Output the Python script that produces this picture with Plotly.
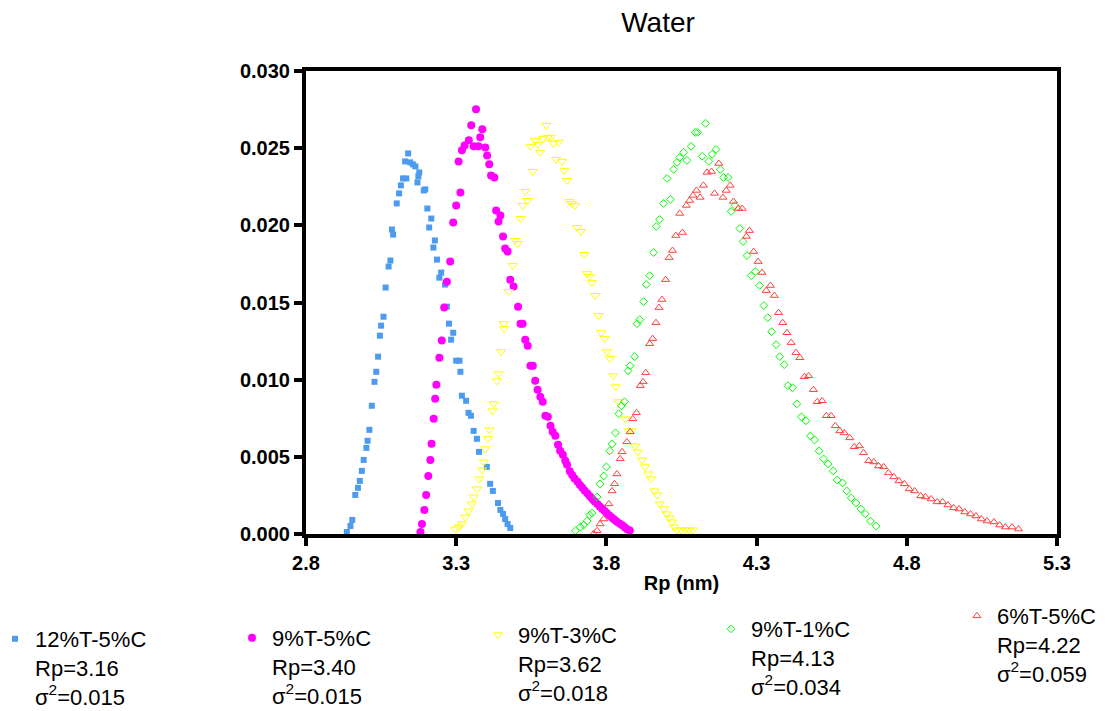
import plotly.graph_objects as go

# ---------------- data ----------------
blue_x = [2.936, 2.948, 2.954, 2.964, 2.973, 2.979, 2.986, 2.992, 3.001, 3.005, 3.011, 3.019, 3.028, 3.034,
          3.040, 3.046, 3.050, 3.058, 3.065, 3.075, 3.081, 3.086, 3.090, 3.102, 3.110, 3.116, 3.123, 3.130,
          3.134, 3.140, 3.147, 3.156, 3.164, 3.171, 3.174, 3.177, 3.192, 3.197, 3.204, 3.210, 3.217, 3.224,
          3.229, 3.236, 3.244, 3.250, 3.263, 3.269, 3.276, 3.283, 3.290, 3.300, 3.311, 3.314, 3.319, 3.333,
          3.341, 3.349, 3.358, 3.369, 3.376, 3.402, 3.413, 3.422, 3.439, 3.447, 3.456, 3.463, 3.471, 3.480]
blue_y = [0.00013, 0.00052, 0.00091, 0.00253, 0.00299, 0.00344, 0.00409, 0.00480, 0.00558, 0.00604, 0.00675,
          0.00831, 0.00986, 0.01051, 0.01149, 0.01285, 0.01350, 0.01408, 0.01597, 0.01733, 0.01772, 0.01973,
          0.01940, 0.02142, 0.02207, 0.02259, 0.02304, 0.02414, 0.02304, 0.02466, 0.02408, 0.02395, 0.02382,
          0.02278, 0.02317, 0.02343, 0.02226, 0.02233, 0.02109, 0.01986, 0.02044, 0.01856, 0.01902, 0.01778,
          0.01661, 0.01694, 0.01616, 0.01473, 0.01363, 0.01259, 0.01304, 0.01123, 0.01123, 0.01051, 0.00896,
          0.00863, 0.00785, 0.00766, 0.00668, 0.00617, 0.00532, 0.00435, 0.00325, 0.00279, 0.00201, 0.00156,
          0.00130, 0.00097, 0.00065, 0.00039]

magenta_x = [3.181, 3.186, 3.194, 3.200, 3.207, 3.214, 3.218, 3.225, 3.230, 3.234, 3.244, 3.252, 3.260, 3.269,
             3.280, 3.290, 3.300, 3.308, 3.314, 3.319, 3.328, 3.342, 3.350, 3.358, 3.366, 3.374, 3.380, 3.387,
             3.397, 3.403, 3.410, 3.416, 3.427, 3.433, 3.441, 3.447, 3.456, 3.463, 3.471, 3.480, 3.491, 3.506,
             3.514, 3.521, 3.530, 3.538, 3.547, 3.555, 3.563, 3.571, 3.580, 3.588, 3.597, 3.605, 3.614, 3.621,
             3.630, 3.639, 3.646, 3.655, 3.663, 3.669, 3.678, 3.686, 3.694, 3.704, 3.712, 3.720, 3.728, 3.737,
             3.745, 3.753, 3.761, 3.770, 3.778, 3.786, 3.794, 3.802, 3.811, 3.819, 3.827, 3.835, 3.845, 3.853,
             3.861, 3.869, 3.878]
magenta_y = [0.00013, 0.00065, 0.00156, 0.00253, 0.00376, 0.00480, 0.00584, 0.00746, 0.00876, 0.00967, 0.01142,
             0.01253, 0.01467, 0.01635, 0.01765, 0.02018, 0.02129, 0.02414, 0.02213, 0.02486, 0.02518, 0.02551,
             0.02648, 0.02512, 0.02752, 0.02512, 0.02570, 0.02622, 0.02505, 0.02453, 0.02395, 0.02323, 0.02310,
             0.02096, 0.02025, 0.02064, 0.01928, 0.01850, 0.01830, 0.01648, 0.01603, 0.01473, 0.01363, 0.01363,
             0.01259, 0.01220, 0.01090, 0.01090, 0.00993, 0.00935, 0.00889, 0.00857, 0.00766, 0.00759, 0.00701,
             0.00662, 0.00636, 0.00578, 0.00539, 0.00513, 0.00474, 0.00448, 0.00406, 0.00383, 0.00360, 0.00339,
             0.00318, 0.00299, 0.00280, 0.00262, 0.00244, 0.00227, 0.00211, 0.00195, 0.00178, 0.00164, 0.00149,
             0.00134, 0.00119, 0.00106, 0.00093, 0.00080, 0.00067, 0.00056, 0.00043, 0.00031, 0.00023]

yellow_x = [3.297, 3.308, 3.319, 3.330, 3.341, 3.352, 3.358, 3.369, 3.377, 3.386, 3.392, 3.397, 3.406, 3.411,
            3.421, 3.425, 3.436, 3.441, 3.450, 3.458, 3.460, 3.474, 3.488, 3.496, 3.505, 3.514, 3.521, 3.530,
            3.538, 3.547, 3.555, 3.563, 3.572, 3.580, 3.590, 3.600, 3.605, 3.614, 3.624, 3.633, 3.641, 3.652,
            3.660, 3.669, 3.677, 3.685, 3.696, 3.702, 3.715, 3.727, 3.736, 3.744, 3.752, 3.763, 3.774, 3.783,
            3.794, 3.802, 3.812, 3.823, 3.831, 3.840, 3.863, 3.874, 3.885, 3.896, 3.905, 3.918, 3.929, 3.940,
            3.949, 3.960, 3.969, 3.978, 3.992, 4.001, 4.010, 4.018, 4.025, 4.035, 4.048, 4.062, 4.075, 4.088]
yellow_y = [0.00032, 0.00045, 0.00065, 0.00110, 0.00149, 0.00195, 0.00240, 0.00292, 0.00357, 0.00415, 0.00467,
            0.00552, 0.00617, 0.00675, 0.00798, 0.00844, 0.00993, 0.01038, 0.01181, 0.01363, 0.01330, 0.01571,
            0.01739, 0.01902, 0.01882, 0.02044, 0.02129, 0.02220, 0.02161, 0.02512, 0.02349, 0.02551, 0.02525,
            0.02473, 0.02564, 0.02648, 0.02570, 0.02570, 0.02531, 0.02427, 0.02538, 0.02414, 0.02356, 0.02291,
            0.02155, 0.02142, 0.02129, 0.01986, 0.01960, 0.01811, 0.01687, 0.01668, 0.01629, 0.01545, 0.01415,
            0.01304, 0.01266, 0.01181, 0.01136, 0.01025, 0.00954, 0.00857, 0.00746, 0.00668, 0.00668, 0.00571,
            0.00532, 0.00480, 0.00435, 0.00389, 0.00357, 0.00279, 0.00253, 0.00195, 0.00162, 0.00130, 0.00104,
            0.00078, 0.00045, 0.00026, 0.00026, 0.00026, 0.00026, 0.00026]

green_x = [3.697, 3.713, 3.724, 3.736, 3.744, 3.752, 3.769, 3.779, 3.791, 3.800, 3.811, 3.819, 3.830, 3.841,
           3.850, 3.860, 3.872, 3.879, 3.894, 3.902, 3.911, 3.924, 3.933, 3.944, 3.957, 3.966, 3.977, 3.990,
           4.002, 4.013, 4.024, 4.035, 4.044, 4.057, 4.068, 4.082, 4.096, 4.104, 4.119, 4.130, 4.141, 4.152,
           4.165, 4.179, 4.190, 4.205, 4.215, 4.228, 4.244, 4.255, 4.268, 4.282, 4.296, 4.310, 4.324, 4.337,
           4.350, 4.365, 4.377, 4.392, 4.404, 4.420, 4.434, 4.449, 4.464, 4.479, 4.493, 4.508, 4.523, 4.538,
           4.555, 4.568, 4.586, 4.600, 4.615, 4.631, 4.647, 4.662, 4.679, 4.698]
green_y = [0.00021, 0.00045, 0.00058, 0.00084, 0.00123, 0.00136, 0.00240, 0.00325, 0.00376, 0.00435, 0.00539,
           0.00584, 0.00655, 0.00779, 0.00831, 0.00857, 0.01058, 0.01090, 0.01149, 0.01363, 0.01389, 0.01506,
           0.01616, 0.01674, 0.01824, 0.01992, 0.02038, 0.02142, 0.02304, 0.02168, 0.02362, 0.02408, 0.02440,
           0.02473, 0.02421, 0.02512, 0.02602, 0.02602, 0.02447, 0.02661, 0.02414, 0.02460, 0.02492, 0.02362,
           0.02310, 0.02310, 0.02090, 0.02129, 0.01979, 0.01895, 0.01804, 0.01674, 0.01700, 0.01610, 0.01480,
           0.01402, 0.01311, 0.01227, 0.01149, 0.01097, 0.00961, 0.00948, 0.00844, 0.00759, 0.00733, 0.00636,
           0.00610, 0.00539, 0.00487, 0.00454, 0.00409, 0.00350, 0.00331, 0.00279, 0.00234, 0.00201, 0.00162,
           0.00130, 0.00084, 0.00052]

red_x = [3.757, 3.769, 3.779, 3.791, 3.808, 3.819, 3.827, 3.835, 3.846, 3.852, 3.868, 3.879, 3.888, 3.900,
         3.913, 3.922, 3.931, 3.944, 3.954, 3.965, 3.975, 3.985, 3.997, 4.009, 4.020, 4.031, 4.044, 4.053,
         4.066, 4.077, 4.088, 4.100, 4.112, 4.123, 4.135, 4.150, 4.160, 4.174, 4.188, 4.199, 4.212, 4.223,
         4.239, 4.252, 4.266, 4.276, 4.290, 4.305, 4.318, 4.332, 4.346, 4.359, 4.373, 4.387, 4.401, 4.415,
         4.431, 4.444, 4.459, 4.473, 4.489, 4.502, 4.518, 4.532, 4.548, 4.562, 4.577, 4.592, 4.610, 4.625,
         4.642, 4.656, 4.673, 4.690, 4.706, 4.723, 4.739, 4.757, 4.774, 4.792, 4.808, 4.826, 4.846, 4.862,
         4.881, 4.901, 4.919, 4.937, 4.956, 4.974, 4.993, 5.012, 5.030, 5.048, 5.067, 5.090, 5.109, 5.128,
         5.150, 5.172]
red_y = [0.00002, 0.00021, 0.00065, 0.00097, 0.00195, 0.00279, 0.00325, 0.00389, 0.00487, 0.00532, 0.00597,
         0.00662, 0.00746, 0.00785, 0.00961, 0.00986, 0.01045, 0.01233, 0.01266, 0.01369, 0.01467, 0.01519,
         0.01648, 0.01791, 0.01837, 0.01934, 0.02077, 0.01953, 0.02129, 0.02161, 0.02194, 0.02226, 0.02181,
         0.02259, 0.02343, 0.02349, 0.02207, 0.02401, 0.02181, 0.02226, 0.02259, 0.02155, 0.02109, 0.02109,
         0.01928, 0.01966, 0.01830, 0.01765, 0.01694, 0.01577, 0.01610, 0.01545, 0.01434, 0.01369, 0.01304,
         0.01240, 0.01175, 0.01142, 0.01019, 0.01025, 0.00935, 0.00857, 0.00863, 0.00766, 0.00766, 0.00701,
         0.00668, 0.00655, 0.00623, 0.00565, 0.00571, 0.00526, 0.00474, 0.00467, 0.00441, 0.00435, 0.00396,
         0.00370, 0.00344, 0.00325, 0.00292, 0.00279, 0.00247, 0.00240, 0.00227, 0.00208, 0.00208, 0.00188,
         0.00169, 0.00162, 0.00143, 0.00130, 0.00117, 0.00097, 0.00084, 0.00078, 0.00058, 0.00045, 0.00045,
         0.00032]

series_names = ["12%T-5%C", "9%T-5%C", "9%T-3%C", "9%T-1%C", "6%T-5%C"]
rp_values = ["3.16", "3.40", "3.62", "4.13", "4.22"]
sigma2_values = ["0.015", "0.015", "0.018", "0.034", "0.059"]

x_ticks = [2.8, 3.3, 3.8, 4.3, 4.8, 5.3]
y_ticks = [0.000, 0.005, 0.010, 0.015, 0.020, 0.025, 0.030]

# ---------------- styling ----------------
FONT = "Arial, Liberation Sans, sans-serif"
xs = [blue_x, magenta_x, yellow_x, green_x, red_x]
ys = [blue_y, magenta_y, yellow_y, green_y, red_y]
markers = [
    dict(symbol="square", size=6, color="#4C9BEE"),
    dict(symbol="circle", size=8, color="#FF00FF"),
    dict(symbol="triangle-down-open", size=8, color="#FFFF00", line=dict(width=1, color="#FFFF00")),
    dict(symbol="diamond-open", size=6, color="#00FF00", line=dict(width=1, color="#00FF00")),
    dict(symbol="triangle-up-open", size=7, color="#FF4040", line=dict(width=1, color="#FF4040")),
]
legend_ids = ["legend", "legend2", "legend3", "legend4", "legend5"]
legend_pos = [(-0.4141, -0.1814), (-0.0985, -0.1793), (0.2290, -0.1728), (0.5393, -0.1598), (0.8668, -0.1318)]

fig = go.Figure()
for i in range(5):
    label = f"{series_names[i]}<br>Rp={rp_values[i]}<br>σ<sup>2</sup>={sigma2_values[i]}"
    fig.add_trace(go.Scatter(
        x=xs[i], y=ys[i], mode="markers", name=label, marker=markers[i],
        legend=legend_ids[i], cliponaxis=False, showlegend=True,
    ))

layout_legends = {}
for i, lid in enumerate(legend_ids):
    layout_legends[lid] = dict(
        x=legend_pos[i][0], y=legend_pos[i][1], xref="paper", yref="paper",
        xanchor="left", yanchor="top", valign="top",
        font=dict(family=FONT, size=22, color="black"),
        bgcolor="rgba(0,0,0,0)", borderwidth=0,
    )

axis_common = dict(
    showline=True, linewidth=4, linecolor="black", mirror=True,
    ticks="outside", ticklen=8, tickwidth=4, tickcolor="black",
    showgrid=False, zeroline=False,
    tickfont=dict(family=FONT, size=20, color="black", weight="bold"),
)

fig.update_layout(
    width=1117, height=711,
    margin=dict(l=306, r=60, t=71, b=177, autoexpand=False),
    paper_bgcolor="white", plot_bgcolor="white",
    title=dict(text="Water", x=658 / 1117, xref="container", xanchor="center",
               y=1 - 22 / 711, yref="container", yanchor="middle",
               font=dict(family=FONT, size=28, color="black")),
    xaxis=dict(range=[2.8, 5.3], tickvals=x_ticks, ticktext=[f"{v:.1f}" for v in x_ticks],
               title=dict(text="Rp (nm)", standoff=4,
                          font=dict(family=FONT, size=20, color="black", weight="bold")),
               **axis_common),
    yaxis=dict(range=[0, 0.030], tickvals=y_ticks, ticktext=[f"{v:.3f}" for v in y_ticks],
               **axis_common),
    **layout_legends,
)

fig.write_html("out.html")
